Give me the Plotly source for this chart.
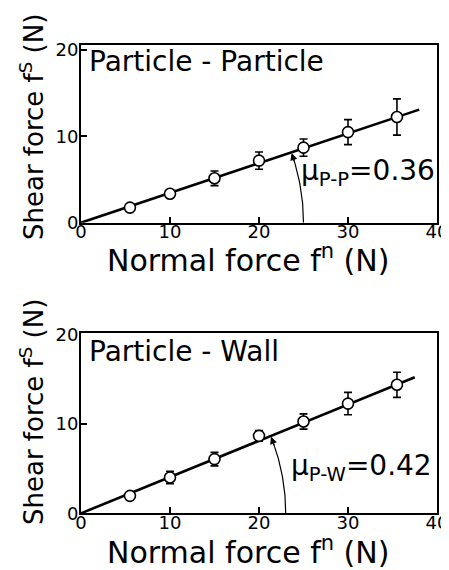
import numpy as np
import plotly.graph_objects as go

# ---------------- data ----------------
normal_force = [5.5, 10, 15, 20, 25, 30, 35.5]

pp_shear = [1.75, 3.35, 5.15, 7.2, 8.7, 10.5, 12.25]
pp_err = [0.3, 0.3, 0.85, 1.0, 1.0, 1.45, 2.1]
pp_fit_slope = 0.345
pp_fit_end = 38.0
pp_label = "Particle - Particle"
pp_mu_text = "μ<sub>P-P</sub>=0.36"
pp_arc_radius = 25.0

pw_shear = [1.95, 4.0, 6.05, 8.65, 10.25, 12.25, 14.35]
pw_err = [0.4, 0.7, 0.75, 0.6, 0.85, 1.25, 1.4]
pw_fit_slope = 0.405
pw_fit_end = 37.5
pw_label = "Particle - Wall"
pw_mu_text = "μ<sub>P-W</sub>=0.42"
pw_arc_radius = 23.0

x_ticks = [0, 10, 20, 30, 40]
y_ticks = [0, 10, 20]
x_title = "Normal force f<sup>n</sup> (N)"
y_title = "Shear force f<sup>S</sup> (N)"

FONT = "DejaVu Sans"

# page has an 8px body margin: figure is laid out in its own pixel frame
OFF = 8
W, H = 449 - OFF, 570 - OFF


def px(xp):
    return (xp - OFF) / W


def py(yp):
    return 1 - (yp - OFF) / H


fig = go.Figure()

panels = [
    dict(xa="x", ya="y", shear=pp_shear, err=pp_err, slope=pp_fit_slope, end=pp_fit_end,
         label=pp_label, mu=pp_mu_text, r=pp_arc_radius, lab_y=0.905, mu_x=0.612, mu_y=0.285,
         xt_y=258, yt_y=127),
    dict(xa="x2", ya="y2", shear=pw_shear, err=pw_err, slope=pw_fit_slope, end=pw_fit_end,
         label=pw_label, mu=pw_mu_text, r=pw_arc_radius, lab_y=0.898, mu_x=0.585, mu_y=0.257,
         xt_y=550, yt_y=412),
]

for p in panels:
    # fitted line through origin
    fx = [0, p["end"]]
    fy = [0, p["slope"] * p["end"]]
    fig.add_trace(go.Scatter(x=fx, y=fy, xaxis=p["xa"], yaxis=p["ya"], mode="lines",
                             line=dict(color="black", width=2.6), showlegend=False,
                             hoverinfo="skip"))
    # angle arc
    t_end = np.arctan(p["slope"])
    t = np.linspace(0, t_end * 0.93, 40)
    fig.add_trace(go.Scatter(x=p["r"] * np.cos(t), y=p["r"] * np.sin(t),
                             xaxis=p["xa"], yaxis=p["ya"], mode="lines",
                             line=dict(color="black", width=1.2), showlegend=False,
                             hoverinfo="skip"))
    # data points with error bars
    fig.add_trace(go.Scatter(x=normal_force, y=p["shear"], xaxis=p["xa"], yaxis=p["ya"],
                             mode="markers",
                             marker=dict(symbol="circle", size=11, color="white",
                                         line=dict(color="black", width=1.6)),
                             error_y=dict(type="data", array=p["err"], visible=True,
                                          color="black", thickness=1.6, width=4),
                             showlegend=False))
    # arrowhead at end of arc
    fig.add_annotation(x=p["r"] * np.cos(t_end * 0.99), y=p["r"] * np.sin(t_end * 0.99),
                       ax=p["r"] * np.cos(t_end * 0.85), ay=p["r"] * np.sin(t_end * 0.85),
                       xref=p["xa"], yref=p["ya"], axref=p["xa"], ayref=p["ya"],
                       text="", showarrow=True, arrowhead=2, arrowsize=1.3,
                       arrowwidth=1.1, arrowcolor="black", standoff=0)
    dom = p["xa"] + " domain"
    ydom = p["ya"] + " domain"
    fig.add_annotation(x=0.016, y=p["lab_y"], xref=dom, yref=ydom, xanchor="left",
                       yanchor="middle", text=p["label"], showarrow=False,
                       font=dict(family=FONT, size=28, color="black"))
    fig.add_annotation(x=p["mu_x"], y=p["mu_y"], xref=dom, yref=ydom, xanchor="left",
                       yanchor="middle", text=p["mu"], showarrow=False,
                       font=dict(family=FONT, size=28, color="black"))
    # axis titles
    fig.add_annotation(x=px(248), y=py(p["xt_y"]), xref="paper", yref="paper",
                       xanchor="center", yanchor="middle", text=x_title, showarrow=False,
                       font=dict(family=FONT, size=30, color="black"))
    fig.add_annotation(x=px(32), y=py(p["yt_y"]), xref="paper", yref="paper",
                       xanchor="center", yanchor="middle", text=y_title, showarrow=False,
                       textangle=-90, font=dict(family=FONT, size=26, color="black"))

xdom = [px(81), px(437)]
axis_common = dict(showline=True, mirror=True, linecolor="black", linewidth=2,
                   showgrid=False, zeroline=False, ticks="inside", ticklen=6,
                   tickwidth=1.5, tickcolor="black", automargin=False,
                   tickfont=dict(family=FONT, size=18, color="black"))

fig.update_layout(
    width=W, height=H,
    margin=dict(l=0, r=0, t=0, b=0),
    paper_bgcolor="white", plot_bgcolor="white",
    font=dict(family=FONT, color="black"),
    xaxis=dict(domain=xdom, anchor="y", range=[0, 40], tickvals=x_ticks,
               ticklabelstandoff=-8, **axis_common),
    yaxis=dict(domain=[py(222.7), py(45)], anchor="x", range=[0, 20.6],
               tickvals=y_ticks, ticklabelstandoff=-3, **axis_common),
    xaxis2=dict(domain=xdom, anchor="y2", range=[0, 40], tickvals=x_ticks,
                ticklabelstandoff=-8, **axis_common),
    yaxis2=dict(domain=[py(513.3), py(333.3)], anchor="x2", range=[0, 20.1],
                tickvals=y_ticks, ticklabelstandoff=-3, **axis_common),
)

fig.write_html("out.html")
